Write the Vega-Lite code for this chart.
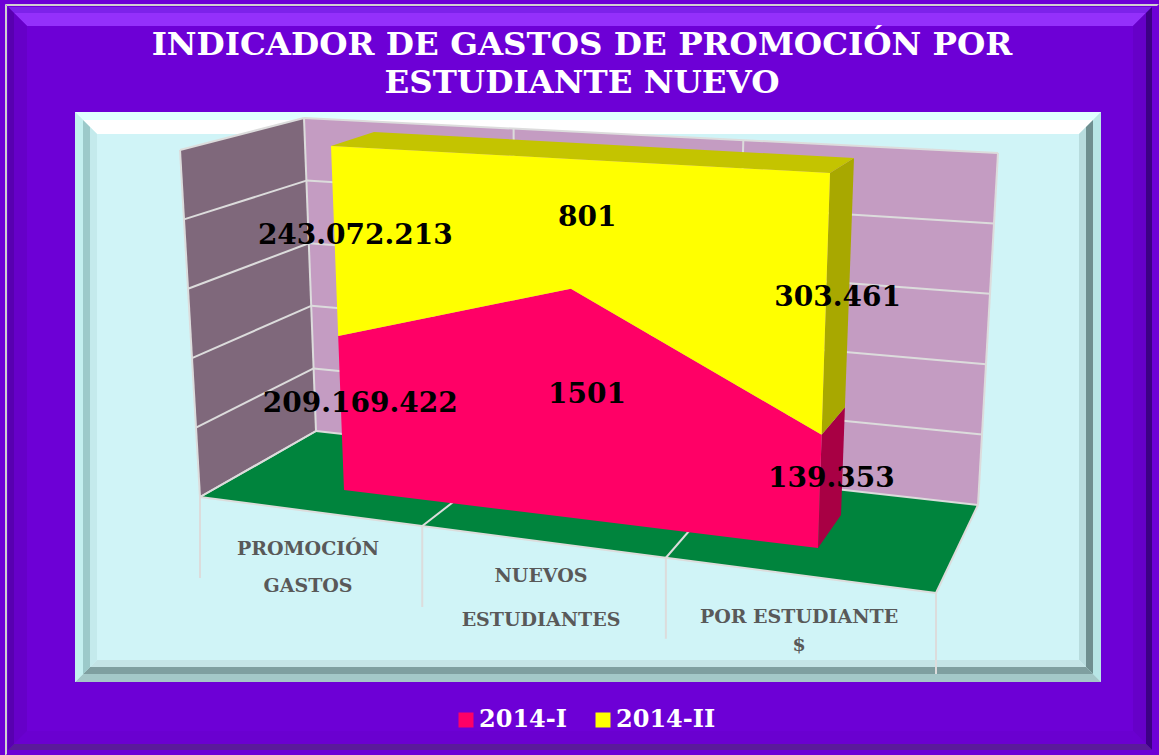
{"$schema":"https://vega.github.io/schema/vega-lite/v6.json","width":1026,"height":570,"autosize":{"type":"none"},"padding":{"left":75,"top":112,"right":58,"bottom":73},"background":"#6d00d6",
"title":{"text":["INDICADOR DE GASTOS DE PROMOCIÓN POR","ESTUDIANTE NUEVO"],"anchor":"middle","dx":-6,"offset":-95,"font":"DejaVu Serif","fontWeight":"bold","fontSize":32.5,"lineHeight":38,"color":"#ffffff"},
"config":{"view":{"fill":"#d0f4f7","stroke":null},"text":{"font":"DejaVu Serif","fontWeight":"bold"}},
"datasets":{"valores":[
{"categoria":"PROMOCIÓN GASTOS","idx":0,"serie":"2014-I","valor":209169422,"texto":"209.169.422"},
{"categoria":"PROMOCIÓN GASTOS","idx":0,"serie":"2014-II","valor":243072213,"texto":"243.072.213"},
{"categoria":"NUEVOS ESTUDIANTES","idx":1,"serie":"2014-I","valor":1501,"texto":"1501"},
{"categoria":"NUEVOS ESTUDIANTES","idx":1,"serie":"2014-II","valor":801,"texto":"801"},
{"categoria":"POR ESTUDIANTE $","idx":2,"serie":"2014-I","valor":139353,"texto":"139.353"},
{"categoria":"POR ESTUDIANTE $","idx":2,"serie":"2014-II","valor":303461,"texto":"303.461"}],
"niveles":[{"nivel":0},{"nivel":0.2},{"nivel":0.4},{"nivel":0.6},{"nivel":0.8},{"nivel":1}],
"limites":[{"limite":0},{"limite":1},{"limite":2},{"limite":3}],
"biseles":[{"banda":"gris","lado":0},{"banda":"gris","lado":3},{"banda":"mE","lado":0},{"banda":"mE","lado":1},{"banda":"mE","lado":2},{"banda":"mE","lado":3},{"banda":"mI","lado":0},{"banda":"mI","lado":1},{"banda":"mI","lado":2},{"banda":"mI","lado":3},{"banda":"pE","lado":0},{"banda":"pE","lado":1},{"banda":"pE","lado":2},{"banda":"pE","lado":3},{"banda":"pM","lado":0},{"banda":"pM","lado":1},{"banda":"pM","lado":2},{"banda":"pM","lado":3},{"banda":"pI","lado":0},{"banda":"pI","lado":1},{"banda":"pI","lado":2},{"banda":"pI","lado":3}],
"rotulos":[{"idx":0,"linea":0,"texto":"PROMOCIÓN"},{"idx":0,"linea":1,"texto":"GASTOS"},{"idx":1,"linea":0,"texto":"NUEVOS"},{"idx":1,"linea":1,"texto":"ESTUDIANTES"},{"idx":2,"linea":0,"texto":"POR ESTUDIANTE"},{"idx":2,"linea":1,"texto":"$"}]},
"encoding":{"x":{"field":"sx","type":"quantitative","scale":{"domain":[75,1101],"nice":false,"zero":false},"axis":null},"y":{"field":"sy","type":"quantitative","scale":{"domain":[682,112],"nice":false,"zero":false},"axis":null}},
"layer":[
{"data":{"name":"biseles"},
"transform":[{"calculate":"0","as":"a"},{"calculate":"1","as":"b"},{"calculate":"2","as":"c"},{"calculate":"3","as":"e"},{"fold":["a","b","c","e"],"as":["vv","vert"]},
{"calculate":"{'gris':[5,4,1159,756,2],'mE':[8,7,1152,750,6],'mI':[14,13,1146,744,13],'pE':[75,112,1101,682,8],'pM':[83,120,1093,674,7],'pI':[90,127,1086,667,7]}[datum.banda]","as":"r"},
{"calculate":"(datum.lado+((datum.vert==0||datum.vert==3)?0:1))%4","as":"j"},
{"calculate":"datum.vert>=2?datum.r[4]:0","as":"w"},
{"calculate":"(datum.j==0||datum.j==3)?datum.r[0]+datum.w:datum.r[2]-datum.w","as":"sx"},
{"calculate":"datum.j<2?datum.r[1]+datum.w:datum.r[3]-datum.w","as":"sy"},
{"calculate":"{'gris0':'#d0d0d0','gris3':'#d0d0d0','mE0':'#7d22ea','mE1':'#3d0085','mE2':'#5a1a9a','mE3':'#5800b0','mI0':'#9430fb','mI1':'#6600c8','mI2':'#6a00d0','mI3':'#6600c8','pE0':'#e0ffff','pE1':'#b8e6e6','pE2':'#a4c8c8','pE3':'#c4f0f0','pM0':'#ffffff','pM1':'#6f8f90','pM2':'#7f9fa0','pM3':'#9ccaca','pI0':'#ffffff','pI1':'#b8dcde','pI2':'#c4e4e6','pI3':'#c4eaec'}[datum.banda+datum.lado]","as":"tono"},
{"calculate":"datum.banda+datum.lado","as":"clave"}],
"mark":{"type":"line","strokeWidth":0},"encoding":{"fill":{"field":"tono","type":"nominal","scale":null},"detail":{"field":"clave"},"order":{"field":"vert","type":"quantitative"}}},
{"data":{"name":"niveles"},
"transform":[{"calculate":"0","as":"a"},{"calculate":"1","as":"b"},{"fold":["a","b"],"as":["ext","s"]},
{"calculate":"'izq'","as":"c1"},{"calculate":"'fondo'","as":"c2"},{"calculate":"'piso'","as":"c3"},{"fold":["c1","c2","c3"],"as":["cc","cara"]},
{"calculate":"datum.cara=='izq'?0:datum.s","as":"u"},{"calculate":"datum.cara=='piso'?0:datum.nivel","as":"v"},{"calculate":"datum.cara=='izq'?datum.s:(datum.cara=='piso'?datum.nivel:1)","as":"d"},
{"calculate":"(1-datum.d)*((1-datum.v)*((1-datum.u)*200+datum.u*936)+datum.v*((1-datum.u)*180+datum.u*913))+datum.d*((1-datum.v)*((1-datum.u)*316+datum.u*978)+datum.v*((1-datum.u)*304+datum.u*998))","as":"sx"},
{"calculate":"(1-datum.d)*((1-datum.v)*((1-datum.u)*497+datum.u*593)+datum.v*((1-datum.u)*150+datum.u*188))+datum.d*((1-datum.v)*((1-datum.u)*431+datum.u*505)+datum.v*((1-datum.u)*118+datum.u*153))","as":"sy"},
{"calculate":"datum.nivel==0?datum.s:3-datum.s","as":"vert"}],
"layer":[
{"transform":[{"filter":"(datum.nivel==0||datum.nivel==1)&&datum.cara=='izq'"}],"mark":{"type":"line","fill":"#7f687b","strokeWidth":0},"encoding":{"order":{"field":"vert","type":"quantitative"}}},
{"transform":[{"filter":"(datum.nivel==0||datum.nivel==1)&&datum.cara=='fondo'"}],"mark":{"type":"line","fill":"#c49cc2","strokeWidth":0},"encoding":{"order":{"field":"vert","type":"quantitative"}}},
{"transform":[{"filter":"(datum.nivel==0||datum.nivel==1)&&datum.cara=='piso'"}],"mark":{"type":"line","fill":"#00843d","strokeWidth":0},"encoding":{"order":{"field":"vert","type":"quantitative"}}},
{"transform":[{"filter":"datum.cara!='piso'||datum.nivel==0"}],"mark":{"type":"line","color":"#dcdcdc","strokeWidth":2},"encoding":{"detail":[{"field":"nivel"},{"field":"cara"}],"order":{"field":"s","type":"quantitative"}}}
]},
{"data":{"name":"limites"},
"transform":[{"calculate":"[0,0.302,0.633,1][datum.limite]","as":"t"},{"calculate":"0","as":"a"},{"calculate":"1","as":"b"},{"fold":["a","b"],"as":["ext","s"]},
{"calculate":"'fondo'","as":"c1"},{"calculate":"'piso'","as":"c2"},{"calculate":"'borde'","as":"c3"},{"calculate":"'caida'","as":"c4"},{"fold":["c1","c2","c3","c4"],"as":["cc","tipo"]},
{"filter":"datum.tipo!='borde'||datum.limite==0"},
{"calculate":"datum.tipo=='borde'?0:datum.t","as":"u"},{"calculate":"(datum.tipo=='fondo'||datum.tipo=='borde')?datum.s:0","as":"v"},{"calculate":"datum.tipo=='fondo'?1:(datum.tipo=='piso'?datum.s:0)","as":"d"},
{"calculate":"(1-datum.d)*((1-datum.v)*((1-datum.u)*200+datum.u*936)+datum.v*((1-datum.u)*180+datum.u*913))+datum.d*((1-datum.v)*((1-datum.u)*316+datum.u*978)+datum.v*((1-datum.u)*304+datum.u*998))","as":"sx"},
{"calculate":"(1-datum.d)*((1-datum.v)*((1-datum.u)*497+datum.u*593)+datum.v*((1-datum.u)*150+datum.u*188))+datum.d*((1-datum.v)*((1-datum.u)*431+datum.u*505)+datum.v*((1-datum.u)*118+datum.u*153))+(datum.tipo=='caida'?datum.s*81:0)","as":"sy"},
{"calculate":"datum.tipo+datum.limite","as":"clave"}],
"mark":{"type":"line","color":"#dcdcdc","strokeWidth":2},"encoding":{"detail":{"field":"clave"},"order":{"field":"s","type":"quantitative"}}},
{"data":{"name":"valores"},
"transform":[{"stack":"valor","groupby":["idx"],"offset":"normalize","sort":[{"field":"serie","order":"ascending"}],"as":["y0","y1"]},
{"calculate":"(datum.y0+datum.y1)/2","as":"ym"},{"fold":["y0","ym","y1"],"as":["borde","compartido"]},
{"calculate":"0","as":"da"},{"calculate":"0.5","as":"dm"},{"calculate":"1","as":"db"},{"fold":["da","dm","db"],"as":["prof","d"]},
{"calculate":"datum.idx==1?0.48:datum.idx/2","as":"u"},
{"calculate":"datum.compartido-0.06*datum.compartido*(1-datum.compartido)","as":"v"},
{"calculate":"(1-datum.d)*((1-datum.v)*((1-datum.u)*344+datum.u*818)+datum.v*((1-datum.u)*331+datum.u*830))+datum.d*((1-datum.v)*((1-datum.u)*381+datum.u*841)+datum.v*((1-datum.u)*374+datum.u*854))","as":"sx"},
{"calculate":"(1-datum.d)*((1-datum.v)*((1-datum.u)*490+datum.u*548)+datum.v*((1-datum.u)*146+datum.u*173))+datum.d*((1-datum.v)*((1-datum.u)*464+datum.u*515)+datum.v*((1-datum.u)*132+datum.u*158))","as":"sy"}],
"layer":[
{"transform":[{"filter":"datum.idx==2&&datum.borde!='ym'&&datum.prof!='dm'&&datum.serie=='2014-I'"},{"calculate":"datum.borde=='y0'?(datum.d==0?0:3):(datum.d==0?1:2)","as":"vert"}],"mark":{"type":"line","strokeWidth":0,"fill":"#a80044"},"encoding":{"order":{"field":"vert","type":"quantitative"}}},
{"transform":[{"filter":"datum.idx==2&&datum.borde!='ym'&&datum.prof!='dm'&&datum.serie=='2014-II'"},{"calculate":"datum.borde=='y0'?(datum.d==0?0:3):(datum.d==0?1:2)","as":"vert"}],"mark":{"type":"line","strokeWidth":0,"fill":"#a8a800"},"encoding":{"order":{"field":"vert","type":"quantitative"}}},
{"transform":[{"filter":"datum.serie=='2014-II'&&datum.borde=='y1'&&datum.prof!='dm'"},{"calculate":"datum.d==0?datum.idx:5-datum.idx","as":"vert"}],"mark":{"type":"line","fill":"#c4c400","strokeWidth":0},"encoding":{"order":{"field":"vert","type":"quantitative"}}},
{"transform":[{"filter":"datum.prof=='da'&&datum.borde!='ym'"},{"calculate":"datum.borde=='y1'?datum.idx:5-datum.idx","as":"vert"}],"mark":{"type":"line","strokeWidth":0},"encoding":{"fill":{"field":"serie","type":"nominal","scale":{"domain":["2014-I","2014-II"],"range":["#ff0066","#ffff00"]},"legend":{"title":null,"orient":"none","legendX":379,"legendY":596,"direction":"horizontal","columns":2,"symbolType":"square","symbolSize":225,"symbolStrokeWidth":0,"labelFont":"DejaVu Serif","labelFontWeight":"bold","labelFontSize":24,"labelColor":"#ffffff","labelOffset":1,"columnPadding":24,"labelLimit":200}},"order":{"field":"vert","type":"quantitative"}}},
{"transform":[{"filter":"datum.prof=='dm'&&datum.borde=='ym'"}],"mark":{"type":"text","fontSize":28,"color":"#000000","dy":2},"encoding":{"text":{"field":"texto"}}}
]},
{"data":{"name":"rotulos"},"transform":[{"calculate":"[308,541,799][datum.idx]","as":"sx"},{"calculate":"[[549,586],[576,620],[617,645]][datum.idx][datum.linea]","as":"sy"}],"mark":{"type":"text","fontSize":19,"color":"#595959"},"encoding":{"text":{"field":"texto"}}}
]}
